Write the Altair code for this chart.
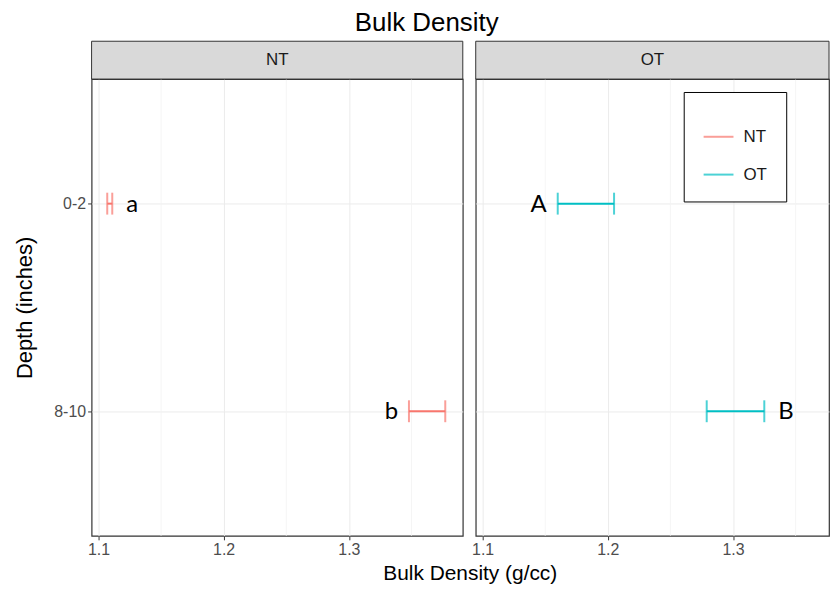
import altair as alt
import pandas as pd

# ---- data ----
panels = ["NT", "OT"]
depth_levels = ["0-2", "8-10"]
tillage = ["NT", "NT", "OT", "OT"]
depth = ["0-2", "8-10", "0-2", "8-10"]
bd_low = [1.107, 1.348, 1.160, 1.279]
bd_high = [1.111, 1.377, 1.205, 1.325]
letters = ["a", "b", "A", "B"]
letter_side = ["right", "left", "left", "right"]
major_ticks = [1.1, 1.2, 1.3]
minor_ticks = [1.15, 1.25, 1.35]
colors = ["#F8766D", "#00BFC4"]

df = pd.DataFrame({"tillage": tillage, "depth": depth, "lo": bd_low,
                   "hi": bd_high, "letter": letters, "side": letter_side})
minor_df = pd.DataFrame({"v": minor_ticks})

PX_PER_UNIT = 1258.0
X0 = 1.0945
H = 459
STRIP = 38
FONT = "Liberation Sans"

legend = alt.Legend(orient="none", legendX=595, legendY=13, title=" ",
                    titleFontSize=10, titlePadding=0, symbolType="stroke",
                    symbolSize=900, symbolStrokeWidth=2, labelFontSize=17,
                    labelFont=FONT, labelColor="#1a1a1a", labelOffset=9,
                    rowPadding=14, padding=19, strokeColor="black",
                    fillColor="white")
color = alt.Color("tillage:N", scale=alt.Scale(domain=panels, range=colors),
                  legend=legend)


def panel(name, width, first):
    xdom = [X0, X0 + width / PX_PER_UNIT]
    xscale = alt.Scale(domain=xdom, nice=False, zero=False)
    yscale = alt.Scale(type="point", domain=depth_levels, padding=0.6)
    xaxis = alt.Axis(values=major_ticks, format=".1f", grid=True,
                     gridColor="#ebebeb", domain=False, tickColor="#333333",
                     tickSize=4, labelColor="#4d4d4d", labelFontSize=16,
                     labelFont=FONT, labelPadding=2,
                     title="Bulk Density (g/cc)" if first else None,
                     titleFontSize=21, titleFont=FONT, titleFontWeight="normal",
                     titleColor="black", titleX=380, titlePadding=5)
    yaxis = alt.Axis(grid=True, gridColor="#ebebeb", domain=False,
                     ticks=first, labels=first, tickColor="#333333", tickSize=4,
                     labelColor="#4d4d4d", labelFontSize=16, labelFont=FONT,
                     labelPadding=2,
                     title="Depth (inches)" if first else None,
                     titleFontSize=22, titleFont=FONT, titleFontWeight="normal",
                     titleColor="black", titlePadding=17)
    d = df[df.tillage == name]

    minor = alt.Chart(minor_df).mark_rule(color="#f2f2f2", strokeWidth=0.8).encode(
        x=alt.X("v:Q", scale=xscale, axis=xaxis))
    bars = alt.Chart(d).mark_rule(strokeWidth=2).encode(
        x=alt.X("lo:Q", scale=xscale, axis=xaxis),
        x2="hi:Q",
        y=alt.Y("depth:N", scale=yscale, axis=yaxis),
        color=color)
    caps = alt.Chart(d).transform_fold(["lo", "hi"], as_=["end", "val"]).mark_tick(
        size=22, thickness=2).encode(
        x=alt.X("val:Q", scale=xscale, axis=xaxis),
        y=alt.Y("depth:N", scale=yscale, axis=yaxis),
        color=color)
    txt_r = alt.Chart(d).transform_filter(alt.datum.side == "right").mark_text(
        align="left", baseline="middle", dx=14, dy=1, fontSize=24,
        font="Lato", color="black").encode(
        x=alt.X("hi:Q", scale=xscale), y=alt.Y("depth:N", scale=yscale),
        text="letter:N")
    txt_l = alt.Chart(d).transform_filter(alt.datum.side == "left").mark_text(
        align="right", baseline="middle", dx=-11, dy=1, fontSize=24,
        font="Lato", color="black").encode(
        x=alt.X("lo:Q", scale=xscale), y=alt.Y("depth:N", scale=yscale),
        text="letter:N")
    strip_df = pd.DataFrame({"panel": [name]})
    strip = alt.Chart(strip_df).mark_rect(fill="#d9d9d9", stroke="#333333",
                                          strokeWidth=1).encode(
        x=alt.value(0), x2=alt.value(width), y=alt.value(-STRIP), y2=alt.value(0))
    strip_txt = alt.Chart(strip_df).mark_text(fontSize=17, font=FONT,
                                              color="#1a1a1a").encode(
        x=alt.value(width / 2), y=alt.value(-STRIP / 2), text="panel:N")
    return alt.layer(minor, bars, caps, txt_r, txt_l, strip, strip_txt).properties(
        width=width, height=H)


chart = alt.hconcat(panel("NT", 373, True), panel("OT", 355, False),
                    spacing=13, bounds="flush").resolve_scale(
    x="independent", y="shared").properties(
    title=alt.TitleParams("Bulk Density", fontSize=26, font=FONT,
                          fontWeight="normal", color="black", anchor="middle",
                          offset=4, dx=5),
    padding={"left": 5, "top": 0, "right": 0, "bottom": 0},
    background="white",
).configure_view(stroke="#333333", strokeWidth=1.2)

chart.save("out.html", embed_options={"renderer": "svg", "actions": False})
